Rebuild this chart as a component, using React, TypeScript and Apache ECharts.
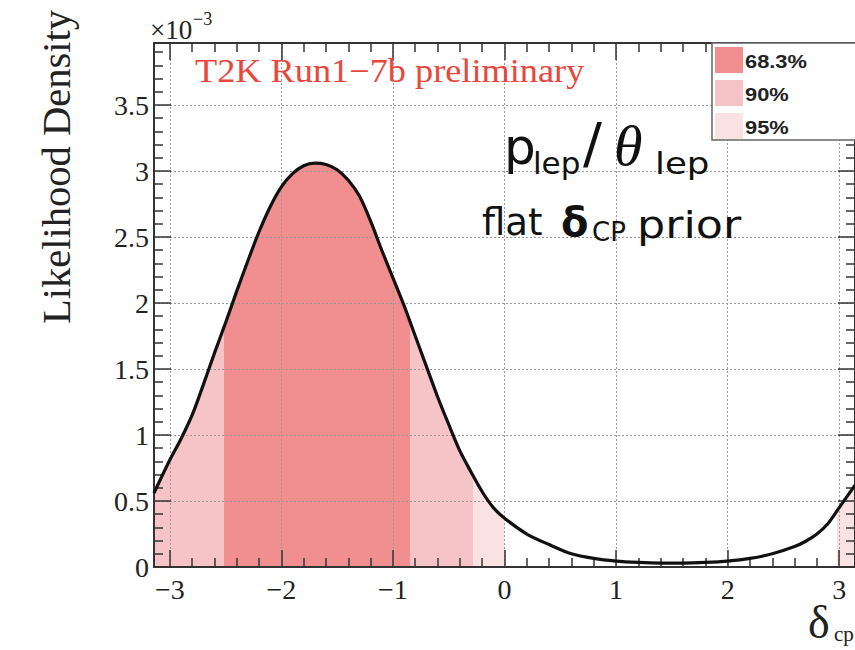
import React, { useEffect, useRef } from 'react';
import * as echarts from 'echarts';

// delta_CP (rad) and marginal likelihood density (x 10^-3)
const deltaCP = [
  -3.1416, -3.0, -2.9, -2.8, -2.7, -2.6, -2.5, -2.4, -2.3, -2.2, -2.1, -2.0, -1.9, -1.8, -1.7, -1.6,
  -1.5, -1.4, -1.3, -1.2, -1.1, -1.0, -0.9, -0.8, -0.7, -0.6, -0.5, -0.4, -0.3, -0.2, -0.1, 0.0,
  0.2, 0.4, 0.6, 0.8, 1.0, 1.2, 1.4, 1.6, 1.8, 2.0, 2.2, 2.4, 2.6, 2.7, 2.8, 2.9, 3.0, 3.1416,
];
const density = [
  0.56, 0.81, 0.97, 1.15, 1.38, 1.62, 1.85, 2.09, 2.32, 2.54, 2.73, 2.88, 2.98, 3.04, 3.06, 3.05,
  3.01, 2.93, 2.81, 2.62, 2.4, 2.19, 1.98, 1.75, 1.52, 1.29, 1.08, 0.88, 0.72, 0.57, 0.45, 0.37,
  0.25, 0.17, 0.1, 0.065, 0.045, 0.035, 0.03, 0.03, 0.035, 0.045, 0.065, 0.1, 0.155, 0.195, 0.25, 0.33, 0.45, 0.62,
];

// credible-interval bands along delta_CP
const bandFrom = [-3.1416, -2.51, -0.85, -0.28, 2.98];
const bandTo = [-2.51, -0.85, -0.28, 0.0, 3.1416];
const bandLevel = ['90%', '68.3%', '90%', '95%', '95%'];

const levels = ['68.3%', '90%', '95%'];

const levelColor: Record<string, string> = {
  '68.3%': '#f18e90',
  '90%': '#f6c4c6',
  '95%': '#fbe2e2',
};

export default function App() {
  const ref = useRef<HTMLDivElement>(null);

  useEffect(() => {
    const chart = echarts.init(ref.current!, null, { renderer: 'svg' });
    const points = deltaCP.map((x, i) => [x, density[i]]);
    const serif = '"Liberation Serif", "Times New Roman", serif';
    const sans = '"Liberation Sans", Arial, sans-serif';
    const gothic = '"DejaVu Sans", "Noto Sans", sans-serif';
    const axisColor = '#333';

    const tickCommon = {
      axisLine: { show: true, onZero: false, lineStyle: { color: axisColor, width: 2 } },
      axisTick: { show: true, inside: true, length: 17, lineStyle: { color: axisColor, width: 1.5 } },
      minorTick: { show: true, splitNumber: 5, length: 9, lineStyle: { color: axisColor, width: 1.5 } },
    };
    const xBase = { type: 'value', min: -3.1416, max: 3.1416, splitNumber: 6, ...tickCommon };
    const yBase = { type: 'value', min: 0, max: 3.97, interval: 0.5, ...tickCommon };

    const pieces = bandFrom.map((f, i) => ({ min: f, max: bandTo[i], color: levelColor[bandLevel[i]] }));

    const txt = (o: any) => ({
      type: 'text',
      z: 120,
      ...o,
      style: {
        textAlign: 'left',
        align: 'left',
        textVerticalAlign: 'middle',
        verticalAlign: 'middle',
        ...o.style,
      },
    });

    const graphic: any[] = [
      // y title
      txt({
        x: 57,
        y: 167,
        rotation: Math.PI / 2,
        scaleX: 1.04,
        style: { text: 'Likelihood Density', fontFamily: serif, fontSize: 39, fill: '#222', textAlign: 'center', align: 'center' },
      }),
      // multiplier
      txt({ x: 150, y: 30, style: { text: '×10', fontFamily: serif, fontSize: 27, fill: '#222' } }),
      txt({ x: 193, y: 19, style: { text: '\u22123', fontFamily: serif, fontSize: 18, fill: '#222' } }),
      // title
      txt({
        x: 195,
        y: 71,
        scaleX: 1.1,
        style: { text: 'T2K Run1\u22127b preliminary', fontFamily: serif, fontSize: 33, fill: '#e8483c' },
      }),
      // annotation
      txt({ x: 504, y: 147, style: { text: 'p', fontFamily: gothic, fontSize: 50, fill: '#111' } }),
      txt({ x: 533, y: 163, style: { text: 'lep', fontFamily: gothic, fontSize: 31, fill: '#111' } }),
      txt({ x: 583, y: 142, style: { text: '/', fontFamily: gothic, fontSize: 56, fill: '#111' } }),
      txt({ x: 614, y: 145, style: { text: 'θ', fontFamily: serif, fontSize: 58, fontStyle: 'italic', fill: '#111' } }),
      txt({ x: 655, y: 163, scaleX: 1.15, style: { text: 'lep', fontFamily: gothic, fontSize: 31, fill: '#111' } }),
      txt({ x: 482, y: 222, style: { text: 'flat', fontFamily: gothic, fontSize: 37, fill: '#111' } }),
      txt({ x: 561, y: 222, style: { text: 'δ', fontFamily: gothic, fontSize: 40, fontWeight: 'bold', fill: '#111' } }),
      txt({ x: 592, y: 232, style: { text: 'CP', fontFamily: gothic, fontSize: 26, fill: '#111' } }),
      txt({ x: 637, y: 225, scaleX: 1.2, style: { text: 'prior', fontFamily: gothic, fontSize: 37, fill: '#111' } }),
      // x title
      txt({ x: 808, y: 622, style: { text: 'δ', fontFamily: serif, fontSize: 46, fill: '#222' } }),
      txt({ x: 834, y: 634, style: { text: 'cp', fontFamily: serif, fontSize: 21, fill: '#222' } }),
      // legend box
      {
        type: 'rect',
        z: 100,
        shape: { x: 712, y: 43, width: 170, height: 97 },
        style: { fill: '#fff', stroke: '#666', lineWidth: 1.5 },
      },
      ...levels.map((lv, i) => ({
        type: 'rect',
        z: 101,
        shape: { x: 715, y: 47 + i * 33, width: 28, height: 26 },
        style: { fill: levelColor[lv] },
      })),
      ...levels.map((lv, i) =>
        txt({
          x: 745,
          y: 61 + i * 33,
          scaleX: 1.15,
          style: { text: lv, fontFamily: sans, fontSize: 19, fontWeight: 'bold', fill: '#222' },
        })
      ),
    ];

    chart.setOption({
      animation: false,
      backgroundColor: '#fff',
      grid: { left: 154, right: -1, top: 43, bottom: 83, containLabel: false },
      xAxis: [
        {
          ...xBase,
          position: 'bottom',
          splitLine: { show: true, lineStyle: { color: '#999', width: 1, type: [2, 2] } },
          axisLabel: {
            show: true,
            showMinLabel: false,
            showMaxLabel: false,
            margin: 8,
            fontFamily: serif,
            fontSize: 28,
            color: '#222',
            formatter: (v: number) => (v < 0 ? '\u2212' + Math.abs(v) : String(v)),
          },
        },
        { ...xBase, position: 'top', splitLine: { show: false }, axisLabel: { show: false } },
      ],
      yAxis: [
        {
          ...yBase,
          position: 'left',
          splitLine: { show: true, lineStyle: { color: '#999', width: 1, type: [2, 2] } },
          axisLabel: {
            show: true,
            showMaxLabel: false,
            margin: 5,
            fontFamily: serif,
            fontSize: 28,
            color: '#222',
          },
        },
        { ...yBase, position: 'right', splitLine: { show: false }, axisLabel: { show: false } },
      ],
      visualMap: {
        type: 'piecewise',
        show: false,
        dimension: 0,
        seriesIndex: 0,
        pieces,
        outOfRange: { color: 'rgba(255,255,255,0)' },
      },
      series: [
        {
          type: 'line',
          data: points,
          smooth: 0.3,
          showSymbol: false,
          symbol: 'none',
          z: -1,
          lineStyle: { width: 0, opacity: 0 },
          areaStyle: { opacity: 1 },
          silent: true,
        },
        {
          type: 'line',
          data: points,
          smooth: 0.3,
          showSymbol: false,
          symbol: 'none',
          z: 5,
          lineStyle: { color: '#111', width: 3.2 },
          silent: true,
        },
      ],
      graphic,
    });

    return () => chart.dispose();
  }, []);

  return (
    <div
      ref={ref}
      style={{ position: 'fixed', left: 0, top: 0, width: 855, height: 650, background: '#fff' }}
    />
  );
}
